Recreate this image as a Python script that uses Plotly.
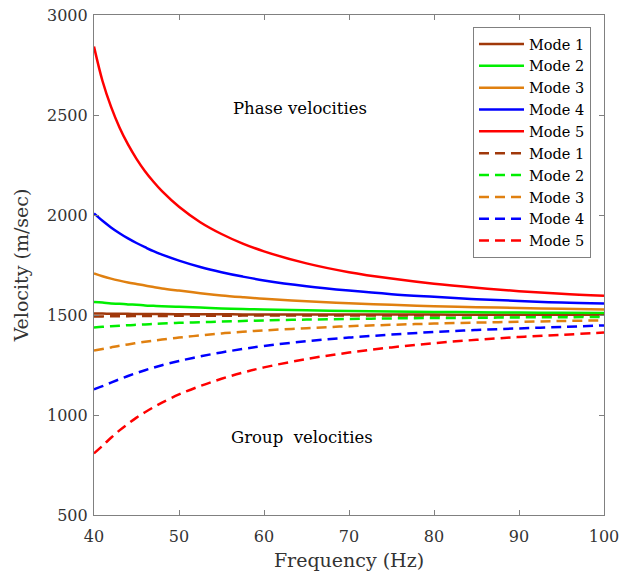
import plotly.graph_objects as go

freq = [40, 41, 42, 43, 44, 45, 46, 47, 48, 50, 52.5, 55, 57.5, 60, 65, 70, 75, 80, 85, 90, 95, 100]

phase_m1 = [1507, 1507, 1506, 1506, 1506, 1505, 1505, 1505, 1505, 1504, 1504, 1504, 1503, 1503, 1503, 1502, 1502, 1502, 1501, 1501, 1501, 1501]
phase_m2 = [1565, 1562, 1558, 1556, 1553, 1551, 1548, 1546, 1544, 1541, 1537, 1533, 1530, 1528, 1524, 1520, 1518, 1515, 1514, 1512, 1511, 1510]
phase_m3 = [1708, 1694, 1682, 1672, 1663, 1655, 1647, 1640, 1633, 1622, 1609, 1598, 1589, 1581, 1569, 1559, 1551, 1544, 1539, 1535, 1531, 1528]
phase_m4 = [2008, 1971, 1938, 1909, 1883, 1860, 1839, 1819, 1802, 1772, 1740, 1714, 1692, 1673, 1644, 1622, 1604, 1591, 1579, 1570, 1562, 1557]
phase_m5 = [2842, 2670, 2542, 2438, 2353, 2281, 2219, 2166, 2119, 2041, 1964, 1905, 1857, 1818, 1758, 1714, 1682, 1656, 1636, 1619, 1606, 1596]

group_m1 = [1493, 1493, 1494, 1494, 1494, 1495, 1495, 1495, 1495, 1496, 1496, 1496, 1497, 1497, 1497, 1498, 1498, 1498, 1499, 1499, 1499, 1499]
group_m2 = [1437, 1441, 1444, 1446, 1449, 1451, 1453, 1455, 1457, 1461, 1464, 1467, 1470, 1473, 1477, 1480, 1483, 1485, 1486, 1488, 1489, 1490]
group_m3 = [1322, 1330, 1338, 1346, 1353, 1360, 1366, 1372, 1377, 1387, 1398, 1408, 1416, 1423, 1434, 1444, 1451, 1457, 1462, 1466, 1470, 1473]
group_m4 = [1128, 1144, 1162, 1179, 1195, 1210, 1224, 1237, 1249, 1270, 1293, 1313, 1330, 1345, 1369, 1387, 1402, 1415, 1425, 1433, 1440, 1448]
group_m5 = [808, 846, 886, 923, 956, 987, 1014, 1039, 1062, 1103, 1145, 1181, 1212, 1238, 1280, 1312, 1338, 1359, 1376, 1390, 1401, 1412]

x_ticks = [40, 50, 60, 70, 80, 90, 100]
y_ticks = [500, 1000, 1500, 2000, 2500, 3000]

labels = ["Mode 1", "Mode 2", "Mode 3", "Mode 4", "Mode 5"]
colors = ["#A0380A", "#00EE00", "#E08010", "#0000FF", "#FF0000"]
phase = [phase_m1, phase_m2, phase_m3, phase_m4, phase_m5]
group = [group_m1, group_m2, group_m3, group_m4, group_m5]

font_family = "DejaVu Serif, serif"

fig = go.Figure()
for lab, col, ys in zip(labels, colors, phase):
    fig.add_trace(go.Scatter(x=freq, y=ys, mode="lines", name=lab,
                             line=dict(color=col, width=2.5, shape="spline", smoothing=1.0)))
for lab, col, ys in zip(labels, colors, group):
    fig.add_trace(go.Scatter(x=freq, y=ys, mode="lines", name=lab,
                             line=dict(color=col, width=2.5, dash="10px,6px",
                                       shape="spline", smoothing=1.0)))

fig.add_annotation(x=64.2, y=2535, text="Phase velocities", showarrow=False,
                   font=dict(family=font_family, size=16.5, color="black"))
fig.add_annotation(x=64.5, y=890, text="Group  velocities", showarrow=False,
                   font=dict(family=font_family, size=16.5, color="black"))

axis_common = dict(showgrid=False, zeroline=False, showline=True, linecolor="#808080",
                   linewidth=1.2, mirror="ticks", ticks="inside", ticklen=5,
                   tickcolor="#808080", automargin=False,
                   tickfont=dict(family=font_family, size=16, color="#333333"))

fig.update_xaxes(range=[40, 100], tickvals=x_ticks, ticklabelstandoff=7,
                 title=dict(text="Frequency (Hz)", font=dict(family=font_family, size=19, color="#333333"), standoff=8),
                 **axis_common)
fig.update_yaxes(range=[500, 3000], tickvals=y_ticks, ticklabelstandoff=2,
                 title=dict(text="Velocity (m/sec)", font=dict(family=font_family, size=19, color="#333333"), standoff=13),
                 **axis_common)

fig.update_layout(
    width=620, height=575,
    margin=dict(l=94, r=16, t=15, b=60),
    plot_bgcolor="white", paper_bgcolor="white",
    legend=dict(x=0.9745, y=0.976, xanchor="right", yanchor="top",
                bgcolor="white", bordercolor="#808080", borderwidth=1,
                font=dict(family=font_family, size=14.5, color="black"),
                tracegroupgap=0, itemwidth=45),
    showlegend=True,
)

fig.write_html("out.html", config={"displayModeBar": False},
               post_script="document.body.style.margin='0px';")
